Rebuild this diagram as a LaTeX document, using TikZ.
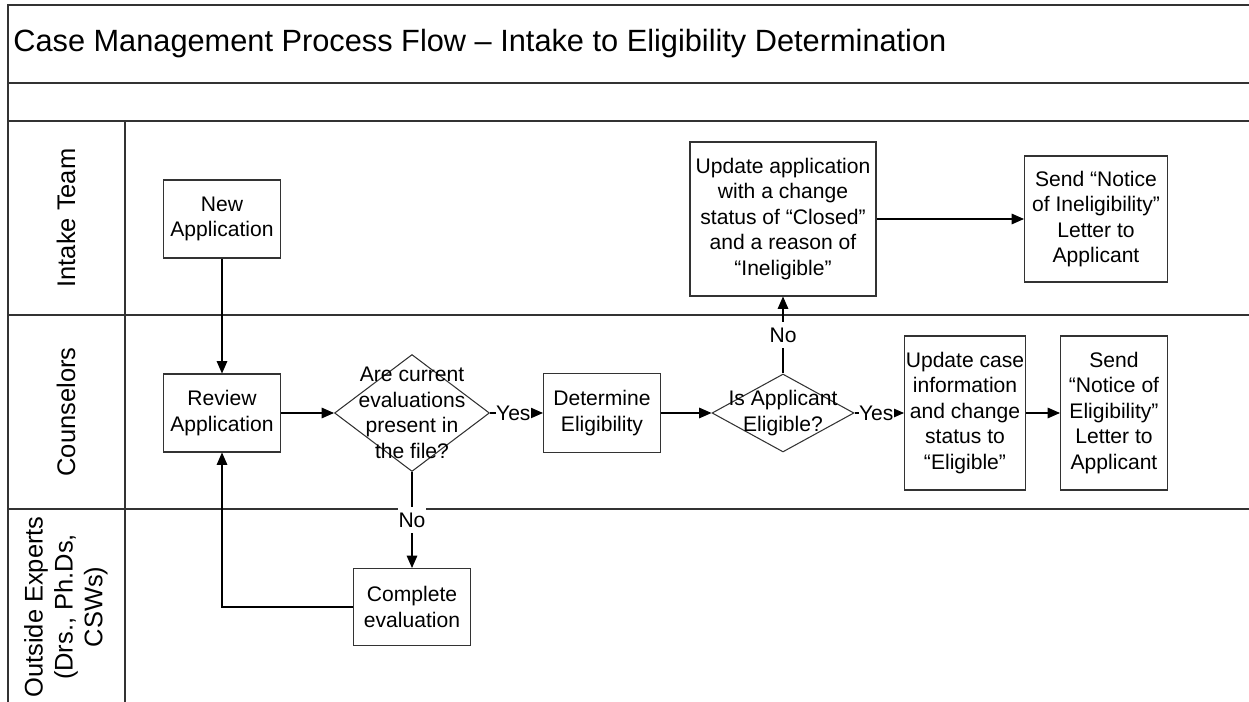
\documentclass[tikz,border=0pt]{standalone}
\usepackage{fontspec}
\setmainfont{Liberation Sans}
\usetikzlibrary{shapes.geometric,arrows.meta}

\begin{document}
\begin{tikzpicture}[x=0.02cm,y=-0.02cm,
  box/.style={draw=black!80,line width=0.6pt,align=center,inner sep=0pt,font=\fontsize{12}{14.5}\selectfont},
  ask/.style={draw=black!80,line width=0.6pt,shape=diamond,inner sep=0pt},
  asktext/.style={align=center,inner sep=0pt,font=\fontsize{12}{14.5}\selectfont},
  flow/.style={-{Triangle[length=7pt,width=6pt]},line width=0.6pt},
  tag/.style={fill=white,inner xsep=0.3pt,inner ysep=3pt,font=\fontsize{12}{14.5}\selectfont},
  lane/.style={rotate=90,align=center,font=\fontsize{14.5}{17}\selectfont},
  rule/.style={line width=0.9pt,black!80}]
  \def\W{1249};
  \def\H{702};
  \useasboundingbox (0,0) rectangle (\W,\H);
  \clip (0,0) rectangle (\W,\H);

  % frame and swim lanes %
  \draw[rule] (8,\H+10) -- (8,5) -- (\W+10,5);
  \foreach \y in {83,121,315,509}
    \draw[rule] (8,\y) -- (\W+10,\y);
  \draw[rule] (125,121) -- (125,\H+10);

  \node[anchor=west,inner sep=0pt,font=\fontsize{17.5}{20}\selectfont] (title) at (13,44) {Case Management Process Flow – Intake to Eligibility Determination};

  \node[lane] (intake) at (66,218) {Intake Team};
  \node[lane] (couns) at (66,412) {Counselors};
  \node[lane] (experts) at (66,607) {Outside Experts\\(Drs., Ph.Ds,\\CSWs)};

  % steps %
  \node[box,minimum width=2.34cm,minimum height=1.56cm] (new) at (222,219) {New\\Application};
  \node[box,minimum width=2.34cm,minimum height=1.56cm] (review) at (222,413) {Review\\Application};
  \node[ask,minimum width=3.1cm,minimum height=2.34cm,
    label={[asktext]center:Are current\\evaluations\\present in\\the file?}] (current) at (412,413) {};
  \node[box,minimum width=2.34cm,minimum height=1.58cm] (determine) at (602,413) {Determine\\Eligibility};
  \node[ask,minimum width=2.84cm,minimum height=1.56cm,
    label={[asktext]center:Is Applicant\\Eligible?}] (eligible) at (783,413) {};
  \node[box,minimum width=3.72cm,minimum height=3.08cm] (closed) at (783,219) {Update application\\with a change\\status of “Closed”\\and a reason of\\“Ineligible”};
  \node[box,minimum width=2.86cm,minimum height=2.52cm] (noticeno) at (1096,219) {Send “Notice\\of Ineligibility”\\Letter to\\Applicant};
  \node[box,minimum width=2.42cm,minimum height=3.08cm] (update) at (965,413) {Update case\\information\\and change\\status to\\“Eligible”};
  \node[box,minimum width=2.14cm,minimum height=3.08cm] (noticeyes) at (1114,413) {Send\\“Notice of\\Eligibility”\\Letter to\\Applicant};
  \node[box,minimum width=2.34cm,minimum height=1.54cm] (evaluate) at (412,607) {Complete\\evaluation};

  % connectors %
  \draw[flow] (new) -- (review);
  \draw[flow] (review) -- (current);
  \draw[flow] (current) -- node[tag,pos=0.44] {Yes} (determine);
  \draw[flow] (determine) -- (eligible);
  \draw[flow] (eligible) -- node[tag,pos=0.44] {Yes} (update);
  \draw[flow] (update) -- (noticeyes);
  \draw[flow] (eligible) -- node[tag] {No} (closed);
  \draw[flow] (closed) -- (noticeno);
  \draw[flow] (current) -- node[tag] {No} (evaluate);
  \draw[flow] (evaluate) -| (review);
\end{tikzpicture}
\end{document}
